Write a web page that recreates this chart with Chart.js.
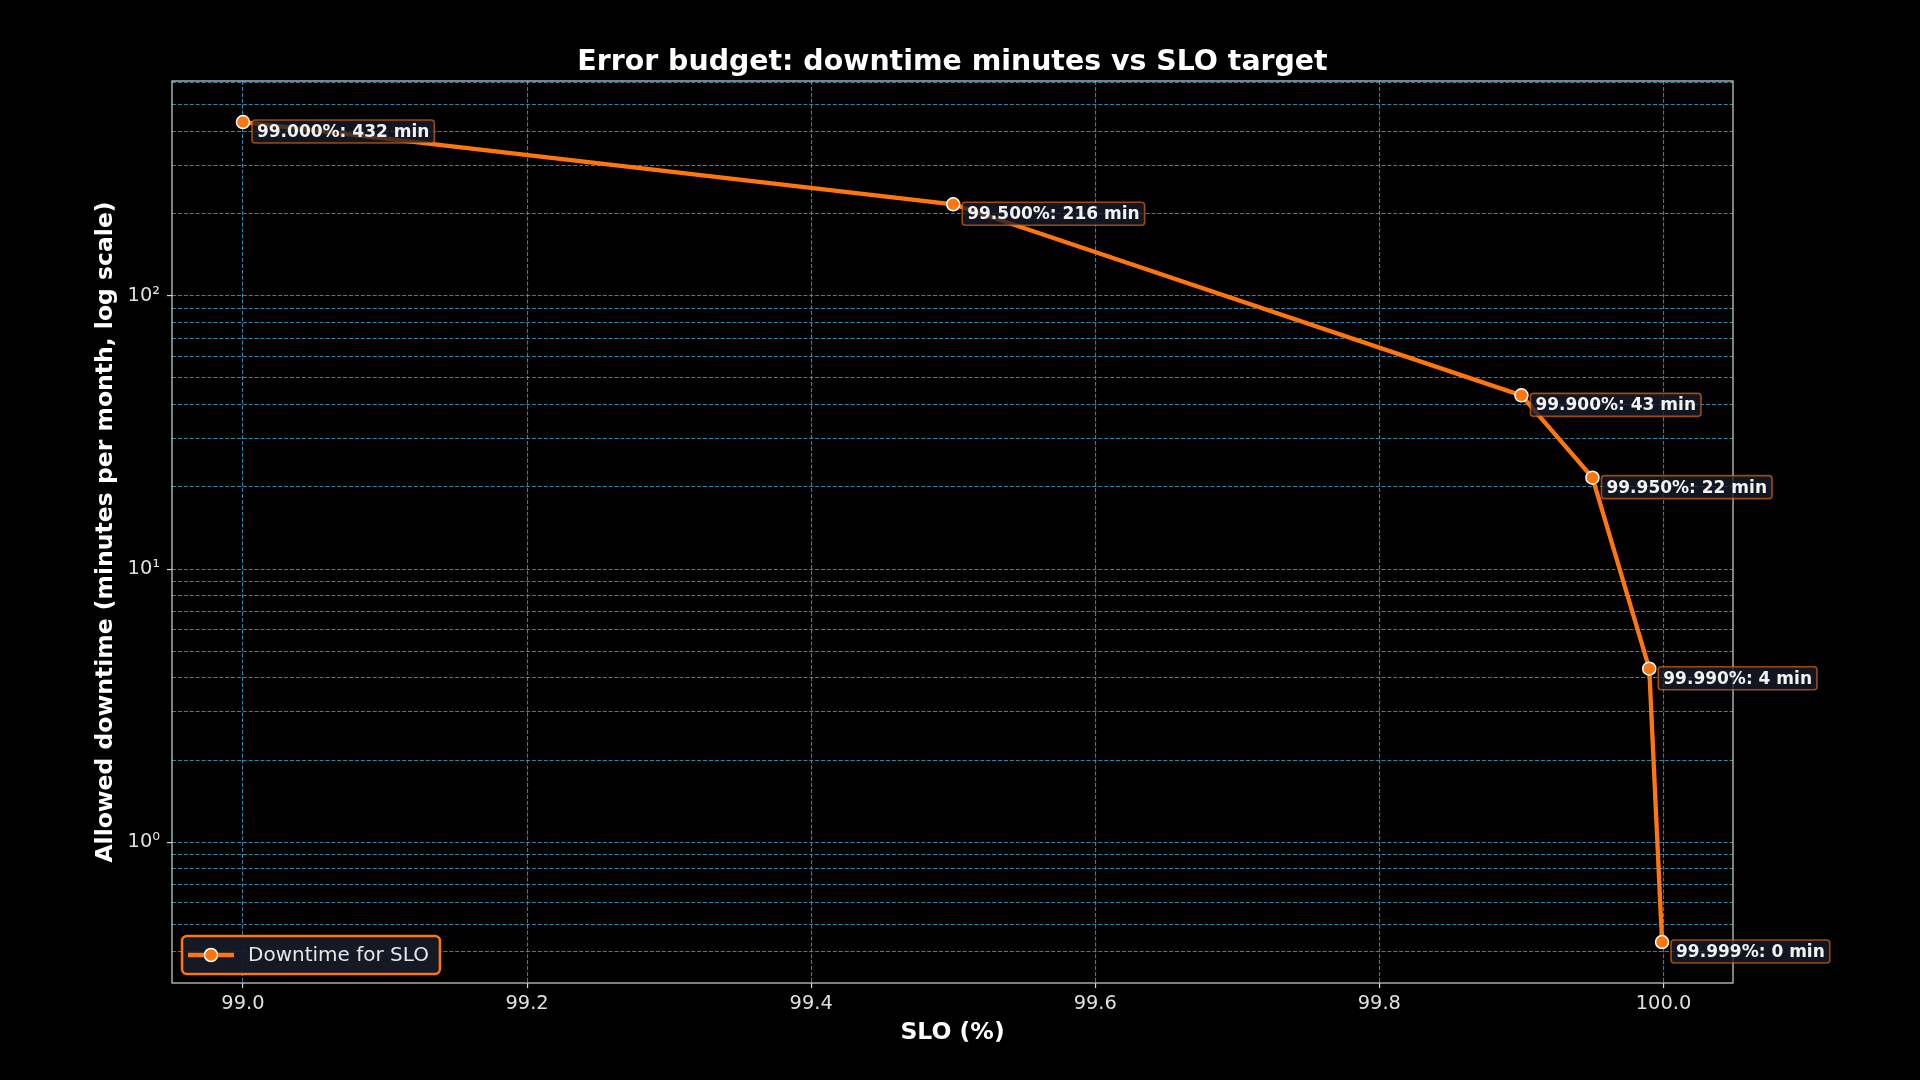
<!DOCTYPE html>
<html>
<head>
<meta charset="utf-8">
<script src="https://cdn.jsdelivr.net/npm/chart.js@4.4.0/dist/chart.umd.min.js"></script>
<style>
  html, body { margin: 0; padding: 0; background: #000; }
  canvas { display: block; }
</style>
</head>
<body>
<canvas id="sloChart" width="1920" height="1080"></canvas>
<script>
// data
const sloTargets = [99.0, 99.5, 99.9, 99.95, 99.99, 99.999];
const downtimeMinutes = [432, 216, 43.2, 21.6, 4.32, 0.432];
const xTickValues = [99.0, 99.2, 99.4, 99.6, 99.8, 100.0];
const yMajorTicks = [1, 10, 100];
const yMajorLabels = ['10⁰', '10¹', '10²'];

const orange = '#ff760f';
const gridColor = 'rgba(62,150,190,0.85)';
const frameColor = '#d4d4d4';
const tickTextColor = '#e0e0e0';

// axis limits (matplotlib-style 5% margins)
const xMin = 98.95005, xMax = 100.04895;
const yMin = 0.3059, yMax = 610.3;

Chart.defaults.font.family = "'DejaVu Sans', sans-serif";
Chart.defaults.color = tickTextColor;

function logGridTicks() {
  const out = [];
  for (let e = -1; e <= 2; e++) {
    for (let m = 1; m <= 9; m++) {
      const v = m * Math.pow(10, e);
      if (v >= yMin && v <= yMax) out.push({ value: v, major: m === 1 });
    }
  }
  return out;
}

function boxPath(ctx, x, y, w, h, r) {
  ctx.beginPath();
  ctx.moveTo(x + r, y);
  ctx.lineTo(x + w - r, y);
  ctx.arcTo(x + w, y, x + w, y + r, r);
  ctx.lineTo(x + w, y + h - r);
  ctx.arcTo(x + w, y + h, x + w - r, y + h, r);
  ctx.lineTo(x + r, y + h);
  ctx.arcTo(x, y + h, x, y + h - r, r);
  ctx.lineTo(x, y + r);
  ctx.arcTo(x, y, x + r, y, r);
  ctx.closePath();
}

const extras = {
  id: 'extras',
  afterDatasetsDraw(chart) {
    const { ctx, chartArea: a } = chart;
    ctx.save();

    // frame (all four spines)
    ctx.strokeStyle = frameColor;
    ctx.lineWidth = 1.2;
    ctx.strokeRect(a.left, a.top, a.right - a.left, a.bottom - a.top);

    // title
    ctx.fillStyle = '#ffffff';
    ctx.font = 'bold 28.4px "DejaVu Sans"';
    ctx.textAlign = 'center';
    ctx.textBaseline = 'alphabetic';
    ctx.fillText('Error budget: downtime minutes vs SLO target', (a.left + a.right) / 2, 69.5);

    // point annotations
    const pts = chart.getDatasetMeta(0).data;
    ctx.font = 'bold 17px "DejaVu Sans"';
    ctx.textAlign = 'left';
    ctx.textBaseline = 'middle';
    pts.forEach((p, i) => {
      const text = sloTargets[i].toFixed(3) + '%: ' + Math.round(downtimeMinutes[i]) + ' min';
      const tx = p.x + 14, ty = p.y + 9.5;
      const w = ctx.measureText(text).width;
      boxPath(ctx, tx - 5, ty - 11.5, w + 10, 23, 3);
      ctx.fillStyle = 'rgba(24,28,42,0.78)';
      ctx.fill();
      ctx.strokeStyle = 'rgba(255,119,15,0.6)';
      ctx.lineWidth = 1.6;
      ctx.stroke();
      ctx.fillStyle = '#f2f2f2';
      ctx.fillText(text, tx, ty + 1);
    });

    // legend (lower left)
    const ds = chart.data.datasets[0];
    ctx.font = '20px "DejaVu Sans"';
    const lw = ctx.measureText(ds.label).width;
    const bx = a.left + 10, bh = 38, by = a.bottom - 9 - bh;
    const bw = 66 + lw + 11;
    boxPath(ctx, bx, by, bw, bh, 5);
    ctx.fillStyle = 'rgba(22,26,40,0.95)';
    ctx.fill();
    ctx.strokeStyle = orange;
    ctx.lineWidth = 2.5;
    ctx.stroke();
    const ly = by + bh / 2;
    ctx.strokeStyle = orange;
    ctx.lineWidth = 4.3;
    ctx.beginPath();
    ctx.moveTo(bx + 6, ly);
    ctx.lineTo(bx + 52, ly);
    ctx.stroke();
    ctx.beginPath();
    ctx.arc(bx + 29, ly, 6.5, 0, Math.PI * 2);
    ctx.fillStyle = orange;
    ctx.fill();
    ctx.strokeStyle = '#ffffff';
    ctx.lineWidth = 1.5;
    ctx.stroke();
    ctx.fillStyle = '#e6e6e6';
    ctx.textBaseline = 'middle';
    ctx.fillText(ds.label, bx + 66, ly + 1);

    ctx.restore();
  }
};

new Chart(document.getElementById('sloChart'), {
  type: 'line',
  data: {
    datasets: [{
      label: 'Downtime for SLO',
      data: sloTargets.map((s, i) => ({ x: s, y: downtimeMinutes[i] })),
      borderColor: orange,
      backgroundColor: orange,
      borderWidth: 4.3,
      tension: 0,
      pointRadius: 6.5,
      pointBorderWidth: 1.5,
      pointBorderColor: '#ffffff',
      pointBackgroundColor: orange,
      clip: false
    }]
  },
  options: {
    responsive: false,
    animation: false,
    events: [],
    layout: { padding: { top: 81, right: 187, left: 0, bottom: 0 } },
    plugins: {
      legend: { display: false },
      title: { display: false },
      tooltip: { enabled: false }
    },
    scales: {
      x: {
        type: 'linear',
        bounds: 'data',
        min: xMin,
        max: xMax,
        afterBuildTicks: s => {
          s.ticks = xTickValues.map(v => ({ value: v }));
          s.min = xMin; s.max = xMax;
        },
        afterFit: s => { s.height = 97; },
        ticks: {
          autoSkip: false,
          maxRotation: 0,
          padding: 4,
          color: tickTextColor,
          font: { size: 19.4 },
          callback: v => v.toFixed(1)
        },
        grid: {
          color: gridColor,
          lineWidth: 1.1,
          drawTicks: true,
          tickLength: 5,
          tickColor: frameColor,
          tickWidth: 1.2,
          tickBorderDash: []
        },
        border: { display: false, dash: [4.1, 1.8] },
        title: {
          display: true,
          text: 'SLO (%)',
          color: '#ffffff',
          font: { size: 23.5, weight: 'bold' },
          padding: { top: 0, bottom: 33 }
        }
      },
      y: {
        type: 'logarithmic',
        bounds: 'data',
        min: yMin,
        max: yMax,
        afterBuildTicks: s => {
          s.ticks = logGridTicks();
          s.min = yMin; s.max = yMax;
        },
        afterFit: s => { s.width = 172; },
        ticks: {
          autoSkip: false,
          padding: 7,
          color: tickTextColor,
          font: { size: 19.4 },
          callback: (v, i, ticks) => {
            const k = yMajorTicks.indexOf(v);
            return k >= 0 ? yMajorLabels[k] : '';
          }
        },
        grid: {
          color: gridColor,
          lineWidth: 1.1,
          drawTicks: true,
          tickLength: 5,
          tickColor: c => (c.tick && c.tick.major) ? frameColor : 'rgba(0,0,0,0)',
          tickWidth: 1.2,
          tickBorderDash: []
        },
        border: { display: false, dash: [4.1, 1.8] },
        title: {
          display: true,
          text: 'Allowed downtime (minutes per month, log scale)',
          color: '#ffffff',
          font: { size: 23.5, weight: 'bold' },
          padding: { top: 92, bottom: 0 }
        }
      }
    }
  },
  plugins: [extras]
});
</script>
</body>
</html>
